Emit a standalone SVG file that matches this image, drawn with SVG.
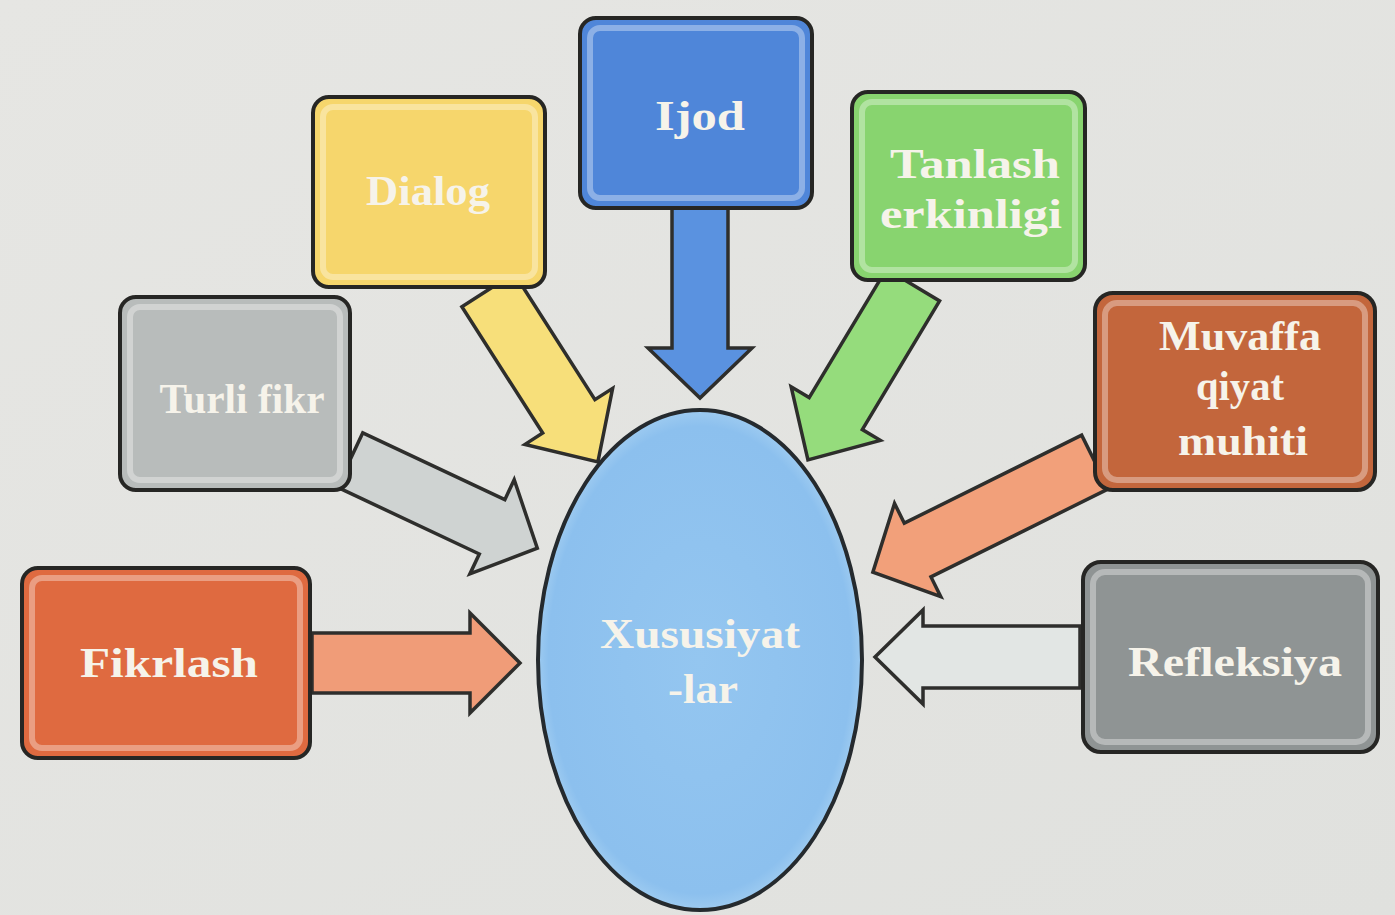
<svg xmlns="http://www.w3.org/2000/svg" width="1395" height="915" viewBox="0 0 1395 915">
<style>
.box{stroke:#262624;stroke-width:4}
.bev{fill:none;stroke:#ffffff;stroke-opacity:0.35;stroke-width:6}
.arr{stroke:#2e2e2c;stroke-width:3.5;stroke-linejoin:miter}
.lbl{font-family:"Liberation Serif","DejaVu Serif",serif;font-weight:bold;font-size:42px;fill:#f6f3ea;text-anchor:middle}
</style>
<defs>
<linearGradient id="bg" x1="0" y1="0" x2="1" y2="1">
<stop offset="0" stop-color="#e6e6e3"/><stop offset="1" stop-color="#e0e1de"/>
</linearGradient>
<radialGradient id="ell" cx="0.5" cy="0.5" r="0.55">
<stop offset="0" stop-color="#94c6f0"/><stop offset="0.85" stop-color="#8cc0ee"/><stop offset="1" stop-color="#b6daf4"/>
</radialGradient>
</defs>
<rect width="1395" height="915" fill="url(#bg)"/>
<g id="connectors">
<!-- Ijod -->
<polygon class="arr" fill="#5a92e0" transform="translate(700,208) rotate(90)" points="0,-28 140,-28 140,-52 190,0 140,52 140,28 0,28"/>
<!-- Dialog -->
<polygon class="arr" fill="#f7df7a" transform="translate(488,290) rotate(57.4)" points="0,-31 150,-31 150,-52 204,0 150,52 150,31 0,31"/>
<!-- Tanlash -->
<polygon class="arr" fill="#95dc7c" transform="translate(913,285) rotate(121)" points="0,-31 150,-31 150,-52 204,0 150,52 150,31 0,31"/>
<!-- Turli fikr -->
<polygon class="arr" fill="#cfd3d2" transform="translate(350,460) rotate(25.2)" points="0,-30 157,-30 157,-52 207,0 157,52 157,30 0,30"/>
<!-- Muvaffa -->
<polygon class="arr" fill="#f2a07a" transform="translate(1095,462) rotate(153.6)" points="0,-30 198,-30 198,-52 248,0 198,52 198,30 0,30"/>
<!-- Fikrlash -->
<polygon class="arr" fill="#f09c78" transform="translate(312,663) rotate(0)" points="0,-30 158,-30 158,-50 208,0 158,50 158,30 0,30"/>
<!-- Refleksiya -->
<polygon class="arr" fill="#e2e6e4" transform="translate(1080,657) rotate(180)" points="0,-31 157,-31 157,-47 205,0 157,47 157,31 0,31"/>
</g>
<g id="center">
<ellipse cx="700" cy="660" rx="162" ry="250" fill="url(#ell)" stroke="#252a2e" stroke-width="4"/>
<text class="lbl" x="700" y="648" textLength="200" lengthAdjust="spacingAndGlyphs">Xususiyat</text>
<text class="lbl" x="703" y="703" textLength="70" lengthAdjust="spacingAndGlyphs">-lar</text>
</g>
<g id="ijod">
<rect class="box" x="580" y="18" width="232" height="190" rx="16" fill="#4f86d9"/>
<rect class="bev" x="590" y="28" width="212" height="170" rx="10"/>
<text class="lbl" x="700" y="130" textLength="90" lengthAdjust="spacingAndGlyphs">Ijod</text>
</g>
<g id="dialog">
<rect class="box" x="313" y="97" width="232" height="190" rx="16" fill="#f6d66c"/>
<rect class="bev" x="323" y="107" width="212" height="170" rx="10"/>
<text class="lbl" x="428" y="205" textLength="124" lengthAdjust="spacingAndGlyphs">Dialog</text>
</g>
<g id="tanlash">
<rect class="box" x="852" y="92" width="233" height="188" rx="16" fill="#88d46f"/>
<rect class="bev" x="862" y="102" width="213" height="168" rx="10"/>
<text class="lbl" x="975" y="178" textLength="170" lengthAdjust="spacingAndGlyphs">Tanlash</text>
<text class="lbl" x="971" y="228" textLength="182" lengthAdjust="spacingAndGlyphs">erkinligi</text>
</g>
<g id="turli">
<rect class="box" x="120" y="297" width="230" height="193" rx="16" fill="#b8bcbb"/>
<rect class="bev" x="130" y="307" width="210" height="173" rx="10"/>
<text class="lbl" x="242" y="413" textLength="165" lengthAdjust="spacingAndGlyphs">Turli fikr</text>
</g>
<g id="muvaffa">
<rect class="box" x="1095" y="293" width="280" height="197" rx="18" fill="#c3663c"/>
<rect class="bev" x="1105" y="303" width="260" height="177" rx="12"/>
<text class="lbl" x="1240" y="350" textLength="162" lengthAdjust="spacingAndGlyphs">Muvaffa</text>
<text class="lbl" x="1240" y="400" textLength="88" lengthAdjust="spacingAndGlyphs">qiyat</text>
<text class="lbl" x="1243" y="455" textLength="130" lengthAdjust="spacingAndGlyphs">muhiti</text>
</g>
<g id="fikrlash">
<rect class="box" x="22" y="568" width="288" height="190" rx="16" fill="#df6a40"/>
<rect class="bev" x="32" y="578" width="268" height="170" rx="10"/>
<text class="lbl" x="169" y="677" textLength="178" lengthAdjust="spacingAndGlyphs">Fikrlash</text>
</g>
<g id="refleksiya">
<rect class="box" x="1083" y="562" width="295" height="190" rx="18" fill="#8f9494"/>
<rect class="bev" x="1093" y="572" width="275" height="170" rx="12"/>
<text class="lbl" x="1235" y="676" textLength="214" lengthAdjust="spacingAndGlyphs">Refleksiya</text>
</g>
</svg>
